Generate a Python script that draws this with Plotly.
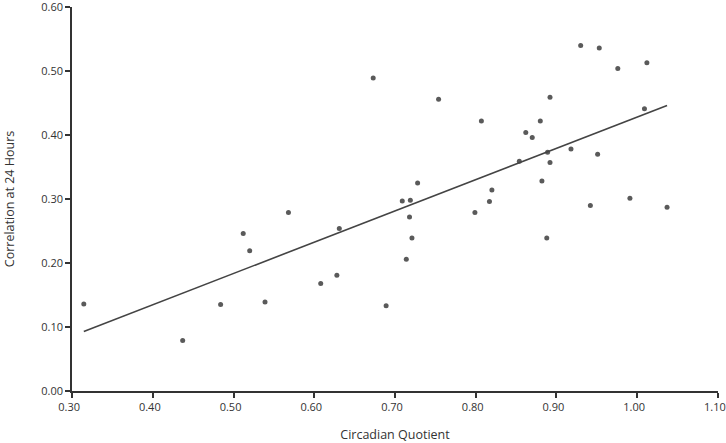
import plotly.graph_objects as go

# Circadian Quotient (x) vs Correlation at 24 Hours (y)
cq = [0.3145, 0.437, 0.484, 0.512, 0.520, 0.539, 0.568, 0.608, 0.628, 0.631,
      0.689, 0.673, 0.754, 0.807, 0.930, 0.953, 0.976, 1.012, 0.892, 0.880,
      0.862, 0.870, 1.009, 0.918, 0.951, 0.889, 0.892, 0.854, 0.728, 0.882,
      0.820, 0.709, 0.719, 0.817, 0.718, 0.799, 0.942, 0.991, 1.037, 0.721,
      0.714, 0.888]
corr = [0.136, 0.079, 0.135, 0.246, 0.219, 0.139, 0.279, 0.168, 0.181, 0.254,
        0.133, 0.489, 0.456, 0.422, 0.540, 0.536, 0.504, 0.513, 0.459, 0.422,
        0.404, 0.396, 0.441, 0.378, 0.370, 0.373, 0.357, 0.359, 0.325, 0.328,
        0.314, 0.297, 0.298, 0.296, 0.272, 0.279, 0.290, 0.301, 0.287, 0.239,
        0.206, 0.239]

trend_x = [0.3145, 1.037]
trend_y = [0.093, 0.446]

x_ticks = [0.30, 0.40, 0.50, 0.60, 0.70, 0.80, 0.90, 1.00, 1.10]
y_ticks = [0.00, 0.10, 0.20, 0.30, 0.40, 0.50, 0.60]

font_family = "Open Sans, Noto Sans, sans-serif"
text_color = "#333333"
axis_color = "#333333"

fig = go.Figure()
fig.add_trace(go.Scatter(
    x=cq, y=corr, mode="markers",
    marker=dict(symbol="circle", size=5, color="#5a5a5a"),
    showlegend=False, hoverinfo="x+y"))
fig.add_trace(go.Scatter(
    x=trend_x, y=trend_y, mode="lines",
    line=dict(color="#444444", width=1.6),
    showlegend=False, hoverinfo="skip"))

fig.update_layout(
    width=726, height=443,
    margin=dict(l=72, r=8, t=7, b=52, autoexpand=False),
    paper_bgcolor="white", plot_bgcolor="white",
    font=dict(family=font_family, size=11.5, color=text_color),
    xaxis=dict(
        range=[0.2999, 1.1001], tickvals=x_ticks,
        ticktext=[f"{v:.2f}" for v in x_ticks],
        ticklabeloverflow="allow", tickfont=dict(size=11), ticklabelshift=-3,
        showgrid=False, zeroline=False,
        showline=True, linecolor=axis_color, linewidth=1.5,
        ticks="outside", ticklen=5, tickwidth=1.5, tickcolor=axis_color,
        title=dict(text="Circadian Quotient", font=dict(size=12.5), standoff=18),
        fixedrange=True,
    ),
    yaxis=dict(
        range=[-0.0001, 0.6001], tickvals=y_ticks,
        ticktext=[f"{v:.2f}" for v in y_ticks],
        ticklabeloverflow="allow", tickfont=dict(size=11),
        showgrid=False, zeroline=False,
        showline=True, linecolor=axis_color, linewidth=1.5,
        ticks="outside", ticklen=5, tickwidth=1.5, tickcolor=axis_color,
        title=dict(text="Correlation at 24 Hours", font=dict(size=12.5), standoff=24),
        fixedrange=True,
    ),
)

fig.write_html("out.html", config={"displayModeBar": False},
               post_script="document.body.style.margin='0';")
